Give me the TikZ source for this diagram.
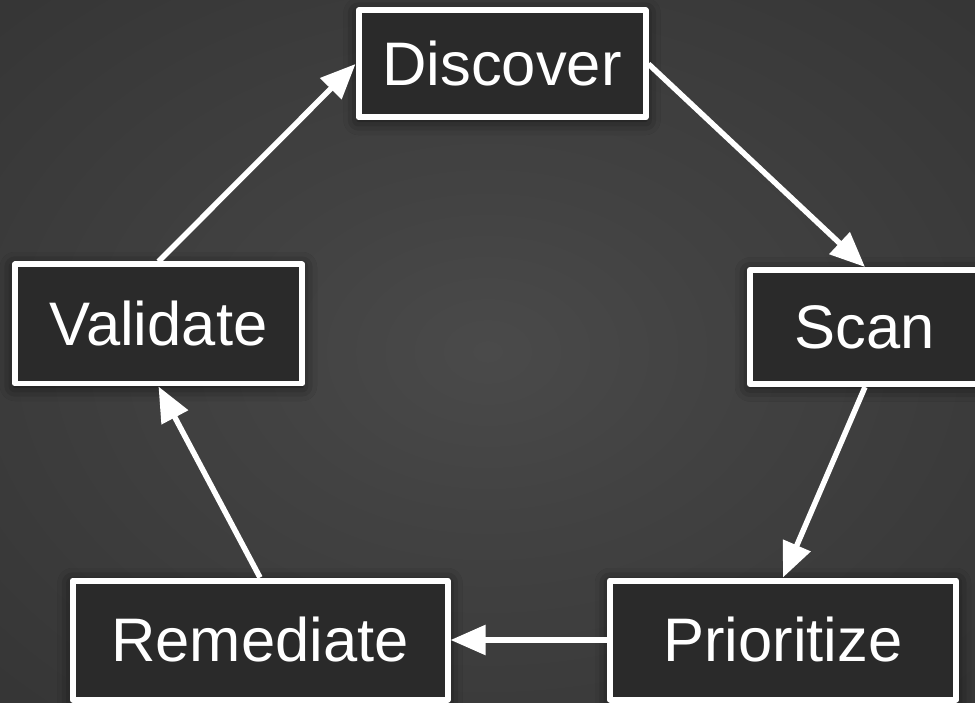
\documentclass[tikz,border=0pt]{standalone}
\usepackage{fontspec}
\setmainfont{Liberation Sans}
\usetikzlibrary{
    arrows.meta,
    positioning,
    shadows.blur
}
\definecolor{bginner}{HTML}{4A4A4A}
\definecolor{bgouter}{HTML}{222222}
\definecolor{boxfill}{HTML}{2A2A2A}
\pgfdeclareradialshading{backglow}{\pgfpoint{0bp}{0bp}}{%
  color(0bp)=(bginner); color(12bp)=(bginner!80!bgouter); color(72bp)=(bgouter)}

\begin{document}
\begin{tikzpicture}[>={Triangle[length=0.7cm,width=0.58cm]}, line join=round]
  \def\W{19.5}     % picture width
  \def\H{14.06}    % picture height

  \tikzset{
    stage/.style={draw=white, line width=0.12cm, fill=boxfill, text=white,
      font=\fontsize{35}{40}\selectfont, inner sep=0pt,
      blur shadow={shadow xshift=0pt, shadow yshift=-0.05cm,
        shadow blur radius=0.3cm, shadow opacity=75}},
    flow/.style={->, white, line width=0.11cm}
  }

  % Background
  \shade[shading=backglow] (0,0) rectangle (\W,-\H);
  \useasboundingbox (0,0) rectangle (\W,-\H);

  % Stages
  \node[stage, minimum width=5.74cm, minimum height=2.14cm] (discover) at (10.04,-1.28) {Discover};
  \node[stage, minimum width=4.6cm, minimum height=2.28cm] (scan) at (17.30,-6.54) {Scan};
  \node[stage, minimum width=6.92cm, minimum height=2.38cm] (prioritize) at (15.66,-12.80) {Prioritize};
  \node[stage, minimum width=7.5cm, minimum height=2.38cm] (remediate) at (5.20,-12.80) {Remediate};
  \node[stage, minimum width=5.74cm, minimum height=2.38cm] (validate) at (3.17,-6.48) {Validate};

  % Cycle
  \draw[flow] (discover.east) -- (scan.north);
  \draw[flow] (scan.south) -- (prioritize.north);
  \draw[flow] (prioritize.west) -- (remediate.east);
  \draw[flow] (remediate.north) -- (validate.south);
  \draw[flow] (validate.north) -- (discover.west);

\end{tikzpicture}
\end{document}
